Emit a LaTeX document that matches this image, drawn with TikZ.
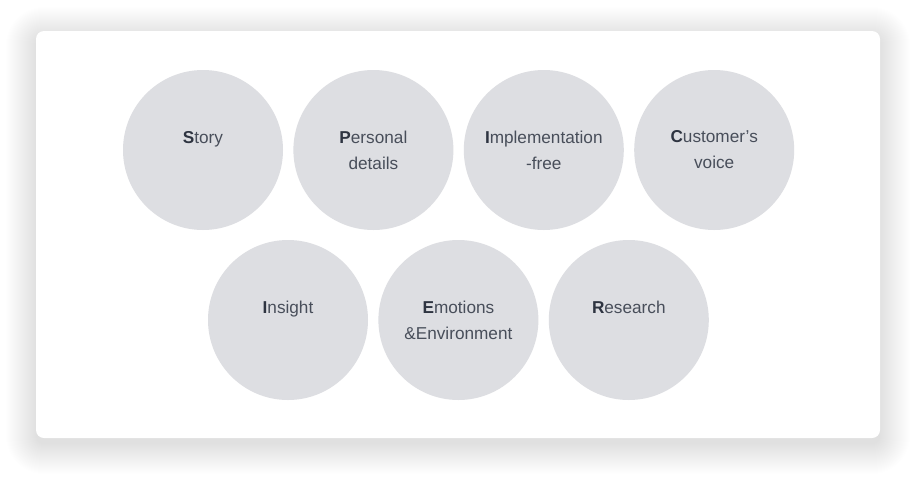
\documentclass[tikz,border=0pt]{standalone}
\usepackage{fontspec}
\setmainfont{Liberation Sans}
\usepackage{xcolor}
\usepackage{tikz}
\usetikzlibrary{positioning}
\definecolor{bubble}{HTML}{DDDEE2}
\definecolor{bodytext}{HTML}{484E5A}
\definecolor{initial}{HTML}{2E3441}

\newcommand{\ini}[1]{{\bfseries\color{initial}#1}}

\begin{document}
\begin{tikzpicture}[
    x=1pt, y=-1pt,
    node distance=10pt,
    every node/.style={
        font=\fontsize{17.2}{26}\selectfont,
        align=center,
        text=bodytext
    },
    bubble/.style={
        circle,
        fill=bubble,
        minimum size=160pt,
        inner sep=0pt
    },
    halo/.style={
        fill=black,
        fill opacity=0.0038
    }
]

\fill[white] (0,0) rectangle (916,480);
\useasboundingbox (0,0) rectangle (916,480);

% soft shadow behind the card
\foreach \s in {0,...,30}
    \fill[halo, rounded corners=8pt+\s pt] (36-\s,31-\s+6) rectangle (880+\s,438+\s+6);
\fill[white, rounded corners=8pt] (36,31) rectangle (880,438);

% top row
\node[bubble] (story) at (203,150) {\ini{S}tory\\\mbox{}};
\node[bubble, right=of story] (personal) {\ini{P}ersonal\\details};
\node[bubble, right=of personal] (implfree) {\ini{I}mplementation\\-free};
\node[bubble, right=of implfree] (voice) {\ini{C}ustomer’s\\voice};

% bottom row
\node[bubble] (insight) at (288,320) {\ini{I}nsight\\\mbox{}};
\node[bubble, right=of insight] (emotions) {\ini{E}motions\\\&Environment};
\node[bubble, right=of emotions] (research) {\ini{R}esearch\\\mbox{}};

\end{tikzpicture}
\end{document}
